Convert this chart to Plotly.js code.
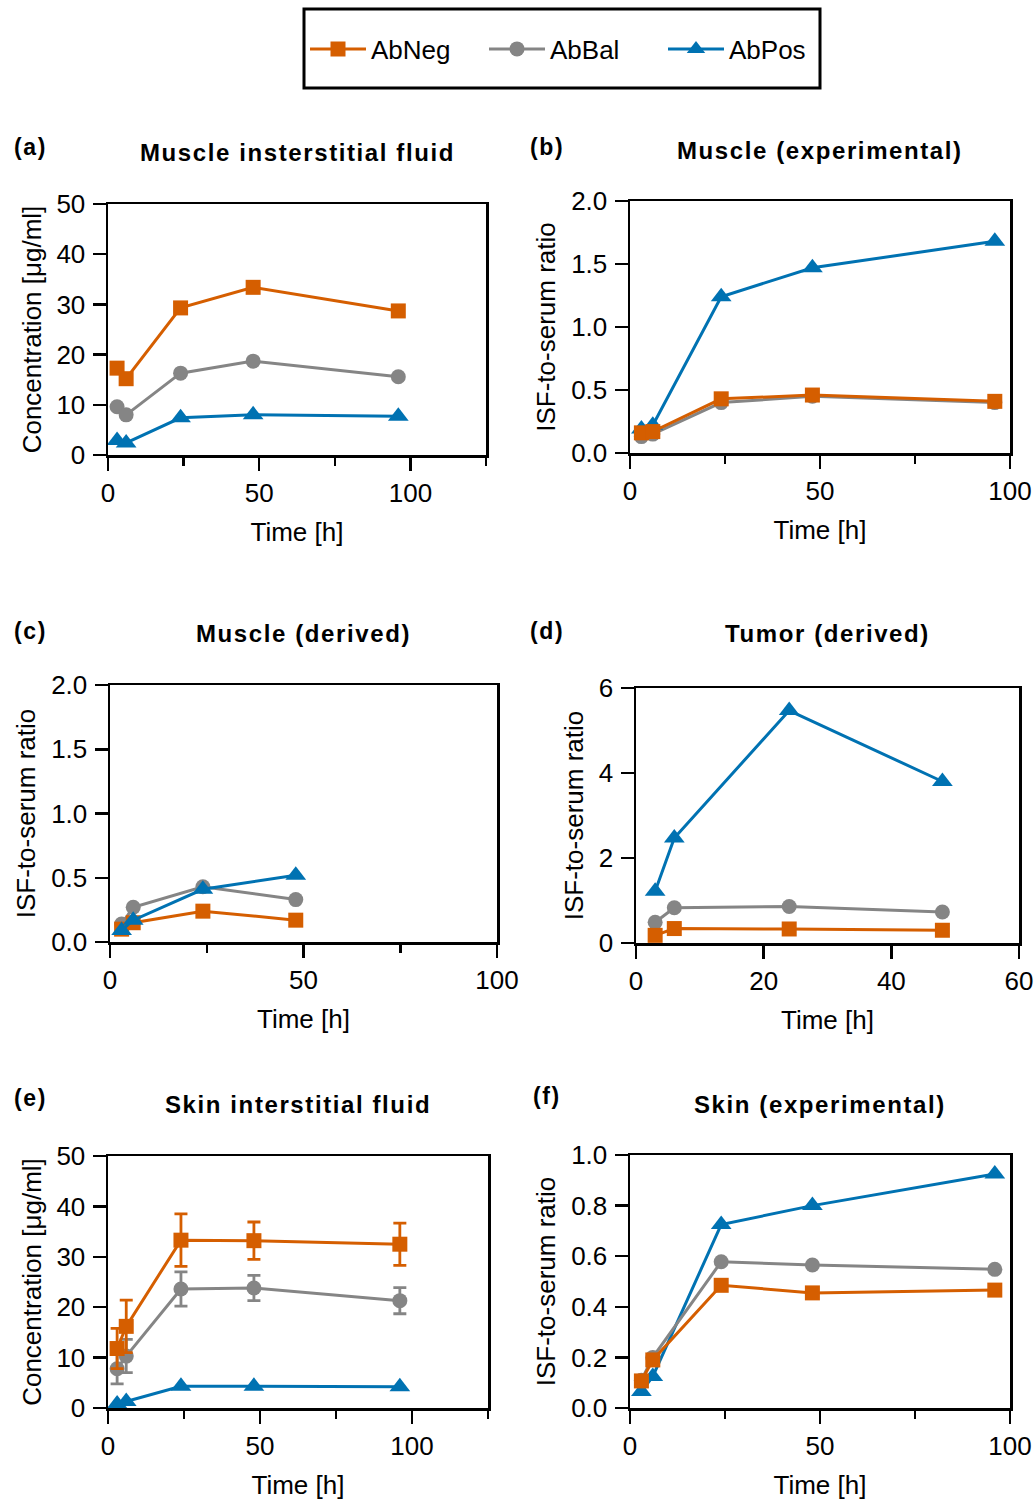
<!DOCTYPE html>
<html>
<head>
<meta charset="utf-8">
<script src="https://cdn.plot.ly/plotly-3.0.1.min.js"></script>
<style>
  html, body { margin: 0; padding: 0; background: #fff; }
  #chart { width: 1036px; height: 1504px; }
  .annotation-text { letter-spacing: 1.6px; }
</style>
</head>
<body>
<div id="chart"></div>
<script>
// ---------------- data ----------------
const seriesNames = ['AbNeg', 'AbBal', 'AbPos'];
const timeFull = [3, 6, 24, 48, 96];
const timeDerived = [3, 6, 24, 48];

// (a) Muscle interstitial fluid, concentration [µg/ml]
const aNeg = [17.3, 15.2, 29.3, 33.4, 28.7];
const aBal = [9.6, 8.0, 16.3, 18.7, 15.6];
const aPos = [2.9, 2.4, 7.4, 8.0, 7.7];

// (b) Muscle (experimental), ISF-to-serum ratio
const bNeg = [0.16, 0.17, 0.43, 0.46, 0.41];
const bBal = [0.13, 0.15, 0.40, 0.45, 0.40];
const bPos = [0.19, 0.22, 1.24, 1.47, 1.68];

// (c) Muscle (derived)
const cNeg = [0.10, 0.15, 0.24, 0.17];
const cBal = [0.14, 0.27, 0.43, 0.33];
const cPos = [0.09, 0.17, 0.41, 0.52];

// (d) Tumor (derived)
const dNeg = [0.18, 0.34, 0.33, 0.30];
const dBal = [0.49, 0.83, 0.86, 0.73];
const dPos = [1.22, 2.47, 5.47, 3.80];

// (e) Skin interstitial fluid, concentration [µg/ml] with error
const eNeg = [11.8, 16.2, 33.3, 33.2, 32.5];
const eNegErr = [4.0, 5.2, 5.2, 3.7, 4.2];
const eBal = [7.8, 10.3, 23.6, 23.8, 21.3];
const eBalErr = [3.0, 3.3, 3.4, 2.5, 2.6];
const ePos = [0.8, 1.3, 4.3, 4.3, 4.2];

// (f) Skin (experimental)
const fNeg = [0.107, 0.19, 0.485, 0.455, 0.466];
const fBal = [0.11, 0.20, 0.578, 0.565, 0.548];
const fPos = [0.065, 0.125, 0.725, 0.80, 0.925];

const panelLabels = ['(a)', '(b)', '(c)', '(d)', '(e)', '(f)'];
const panelTitles = ['Muscle insterstitial fluid', 'Muscle (experimental)', 'Muscle (derived)',
                     'Tumor (derived)', 'Skin interstitial fluid', 'Skin (experimental)'];
const concTitle = 'Concentration [\u03bcg/ml]';
const ratioTitle = 'ISF-to-serum ratio';
const timeTitle = 'Time [h]';

// ---------------- styles ----------------
const COLORS = { AbNeg: '#D55E00', AbBal: '#858585', AbPos: '#0072B2' };
const SYMBOLS = { AbNeg: 'square', AbBal: 'circle', AbPos: 'triangle-up' };
const SIZES = { AbNeg: 15, AbBal: 15, AbPos: 18 };
const FONT = 'Liberation Sans, Arial, sans-serif';
const W = 1036, H = 1504;

function px2x(p) { return p / W; }
function px2y(p) { return 1 - p / H; }

const traces = [];
function addTrace(name, x, y, idx, err, showlegend) {
  const t = {
    type: 'scatter', mode: 'lines+markers', name: name, x: x, y: y,
    xaxis: idx === 1 ? 'x' : 'x' + idx, yaxis: idx === 1 ? 'y' : 'y' + idx,
    line: { color: COLORS[name], width: 3 },
    marker: { color: COLORS[name], symbol: SYMBOLS[name], size: SIZES[name], line: { width: 0 } },
    showlegend: !!showlegend, legendgroup: name,
    legendrank: seriesNames.indexOf(name) + 1,
    cliponaxis: false, hoverinfo: 'skip'
  };
  if (err) {
    t.error_y = { type: 'data', array: err, visible: true, color: COLORS[name], thickness: 2.8, width: 6.5 };
  }
  traces.push(t);
}

addTrace('AbPos', timeFull, aPos, 1, null, true);
addTrace('AbBal', timeFull, aBal, 1, null, true);
addTrace('AbNeg', timeFull, aNeg, 1, null, true);

addTrace('AbBal', timeFull, bBal, 2);
addTrace('AbPos', timeFull, bPos, 2);
addTrace('AbNeg', timeFull, bNeg, 2);

addTrace('AbBal', timeDerived, cBal, 3);
addTrace('AbNeg', timeDerived, cNeg, 3);
addTrace('AbPos', timeDerived, cPos, 3);

addTrace('AbPos', timeDerived, dPos, 4);
addTrace('AbBal', timeDerived, dBal, 4);
addTrace('AbNeg', timeDerived, dNeg, 4);

addTrace('AbPos', timeFull, ePos, 5);
addTrace('AbBal', timeFull, eBal, 5, eBalErr);
addTrace('AbNeg', timeFull, eNeg, 5, eNegErr);

addTrace('AbPos', timeFull, fPos, 6);
addTrace('AbBal', timeFull, fBal, 6);
addTrace('AbNeg', timeFull, fNeg, 6);

// panel geometry (pixels): [left, right, top, bottom]
const boxes = [
  [108, 486, 204, 455],
  [630, 1010, 201, 453],
  [110, 497, 685, 942],
  [636, 1019, 688, 943],
  [108, 488, 1156, 1408],
  [630, 1010, 1155, 1408]
];
const xRanges = [[0, 125], [0, 100], [0, 100], [0, 60], [0, 125], [0, 100]];
const xDticks = [50, 50, 50, 20, 50, 50];
const xMinor = [25, 25, 25, null, 25, 25];
const yRanges = [[0, 50], [0, 2], [0, 2], [0, 6], [0, 50], [0, 1]];
const yDticks = [10, 0.5, 0.5, 2, 10, 0.2];
const yFormats = ['d', '.1f', '.1f', 'd', 'd', '.1f'];
const yTitles = [concTitle, ratioTitle, ratioTitle, ratioTitle, concTitle, ratioTitle];

const layout = {
  width: W, height: H,
  margin: { l: 0, r: 0, t: 0, b: 0 },
  paper_bgcolor: '#ffffff', plot_bgcolor: '#ffffff',
  font: { family: FONT, color: '#000000', size: 26 },
  showlegend: true,
  legend: {
    orientation: 'h', x: px2x(305), xanchor: 'left', y: px2y(49), yanchor: 'middle',
    font: { family: FONT, size: 26, color: '#000' },
    bgcolor: 'rgba(0,0,0,0)', borderwidth: 0,
    itemwidth: 56,
    entrywidth: 108, entrywidthmode: 'pixels', traceorder: 'normal'
  },
  shapes: [{
    type: 'rect', xref: 'paper', yref: 'paper',
    x0: px2x(304), x1: px2x(820), y0: px2y(88), y1: px2y(9),
    line: { color: '#000', width: 3 }, fillcolor: 'rgba(0,0,0,0)'
  }],
  annotations: []
};

const labelPos = [[12, 147], [528, 147], [12, 631], [528, 631], [12, 1098], [531, 1096]];
const titleY = [152, 150, 633, 633, 1104, 1104];

boxes.forEach((b, i) => {
  const k = i + 1;
  const xa = k === 1 ? 'xaxis' : 'xaxis' + k;
  const ya = k === 1 ? 'yaxis' : 'yaxis' + k;
  const xa_id = k === 1 ? 'x' : 'x' + k;
  const ya_id = k === 1 ? 'y' : 'y' + k;
  layout[xa] = {
    domain: [px2x(b[0]), px2x(b[1])], anchor: ya_id,
    range: xRanges[i], dtick: xDticks[i], tick0: 0, tickmode: 'linear',
    showline: true, linecolor: '#000', linewidth: 2.5, mirror: true,
    ticks: 'outside', ticklen: 13, tickwidth: 2.5, tickcolor: '#000',
    ticklabelstandoff: 0,
    showgrid: false, zeroline: false, fixedrange: true,
    tickfont: { family: FONT, size: 26, color: '#000' },
    title: { text: timeTitle, font: { family: FONT, size: 26, color: '#000' }, standoff: 16 }
  };
  if (xMinor[i]) {
    layout[xa].minor = { dtick: xMinor[i], tick0: 0, ticks: 'outside', ticklen: 8, tickwidth: 2.5, tickcolor: '#000', showgrid: false };
  }
  layout[ya] = {
    domain: [px2y(b[3]), px2y(b[2])], anchor: xa_id,
    range: yRanges[i], dtick: yDticks[i], tick0: 0, tickmode: 'linear', tickformat: yFormats[i],
    showline: true, linecolor: '#000', linewidth: 2.5, mirror: true,
    ticks: 'outside', ticklen: 13, tickwidth: 2.5, tickcolor: '#000',
    ticklabelstandoff: 2,
    showgrid: false, zeroline: false, fixedrange: true,
    tickfont: { family: FONT, size: 26, color: '#000' },
    title: { text: yTitles[i], font: { family: FONT, size: 26, color: '#000' }, standoff: 8 }
  };
  layout.annotations.push({
    xref: 'paper', yref: 'paper', x: px2x(labelPos[i][0]), y: px2y(labelPos[i][1]),
    xanchor: 'left', yanchor: 'middle', showarrow: false,
    text: '<b>' + panelLabels[i] + '</b>', font: { family: FONT, size: 23, color: '#000' }
  });
  layout.annotations.push({
    xref: 'paper', yref: 'paper', x: px2x((b[0] + b[1]) / 2), y: px2y(titleY[i]),
    xanchor: 'center', yanchor: 'middle', showarrow: false,
    text: '<b>' + panelTitles[i] + '</b>', font: { family: FONT, size: 24, color: '#000' }
  });
});

Plotly.newPlot('chart', traces, layout, { displayModeBar: false, staticPlot: true });
</script>
</body>
</html>
